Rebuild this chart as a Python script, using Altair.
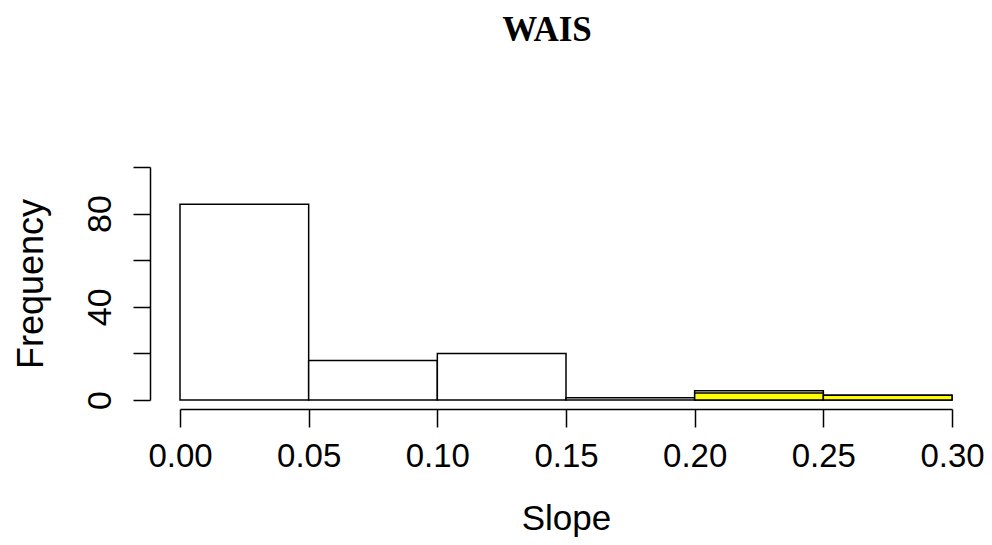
import altair as alt
import pandas as pd

# Histogram bins (Slope)
bin_start = [0.00, 0.05, 0.10, 0.15, 0.20, 0.25]
bin_end = [0.05, 0.10, 0.15, 0.20, 0.25, 0.30]
counts_all = [84, 17, 20, 1, 4, 2]
counts_sub = [0, 0, 0, 0, 3, 2]

x_ticks = [0.00, 0.05, 0.10, 0.15, 0.20, 0.25, 0.30]
y_ticks = [0, 20, 40, 60, 80, 100]

df_all = pd.DataFrame({"start": bin_start, "end": bin_end, "count": counts_all})
df_sub = pd.DataFrame({"start": bin_start, "end": bin_end, "count": counts_sub})
df_sub = df_sub[df_sub["count"] > 0]

FONT = "Liberation Sans"

x_enc = alt.X(
    "start:Q",
    scale=alt.Scale(domain=[0, 0.3], nice=False, zero=False),
    axis=alt.Axis(
        values=x_ticks,
        format=".2f",
        offset=9,
        tickSize=18,
        labelPadding=13,
        labelFontSize=33,
        labelFlush=False,
        labelOverlap=False,
        labelBound=False,
        title="Slope",
        titleFontSize=35,
        titleBaseline="alphabetic",
        titleY=120,
        grid=False,
    ),
)
y_enc = alt.Y(
    "count:Q",
    scale=alt.Scale(domain=[0, 100], nice=False),
    axis=alt.Axis(
        values=y_ticks,
        offset=30,
        tickSize=17,
        labelAngle=270,
        labelAlign="center",
        labelBaseline="alphabetic",
        labelPadding=23,
        labelFontSize=34,
        labelOverlap=False,
        labelFlush=False,
        labelExpr="datum.value % 40 == 0 && datum.value < 100 ? datum.label : ''",
        title="Frequency",
        titleFontSize=36,
        titleAngle=270,
        titleBaseline="alphabetic",
        titleX=-108,
        grid=False,
    ),
)

bars_all = alt.Chart(df_all).mark_bar(
    fill="white", stroke="black", strokeWidth=1.5
).encode(x=x_enc, x2="end:Q", y=y_enc, y2=alt.datum(0))

bars_sub = alt.Chart(df_sub).mark_bar(
    fill="#FFFF00", stroke="black", strokeWidth=1.5
).encode(x="start:Q", x2="end:Q", y="count:Q", y2=alt.datum(0))

chart = (
    alt.layer(bars_all, bars_sub)
    .properties(
        width=772,
        height=233,
        title=alt.TitleParams(
            "WAIS",
            font="Liberation Serif",
            fontSize=35,
            fontWeight="bold",
            anchor="middle",
            frame="group",
            baseline="alphabetic",
            offset=90,
            dx=-19,
            color="black",
        ),
        autosize=alt.AutoSizeParams(type="none"),
        padding={"left": 172, "top": 159, "right": 32, "bottom": 137},
    )
    .configure_view(stroke=None)
    .configure_axis(
        labelFont=FONT,
        titleFont=FONT,
        labelColor="black",
        titleColor="black",
        titleFontWeight="normal",
        domainColor="black",
        tickColor="black",
        domainWidth=1.5,
        tickWidth=1.5,
    )
)

chart.save("out.html", embed_options={"renderer": "svg", "actions": False})
